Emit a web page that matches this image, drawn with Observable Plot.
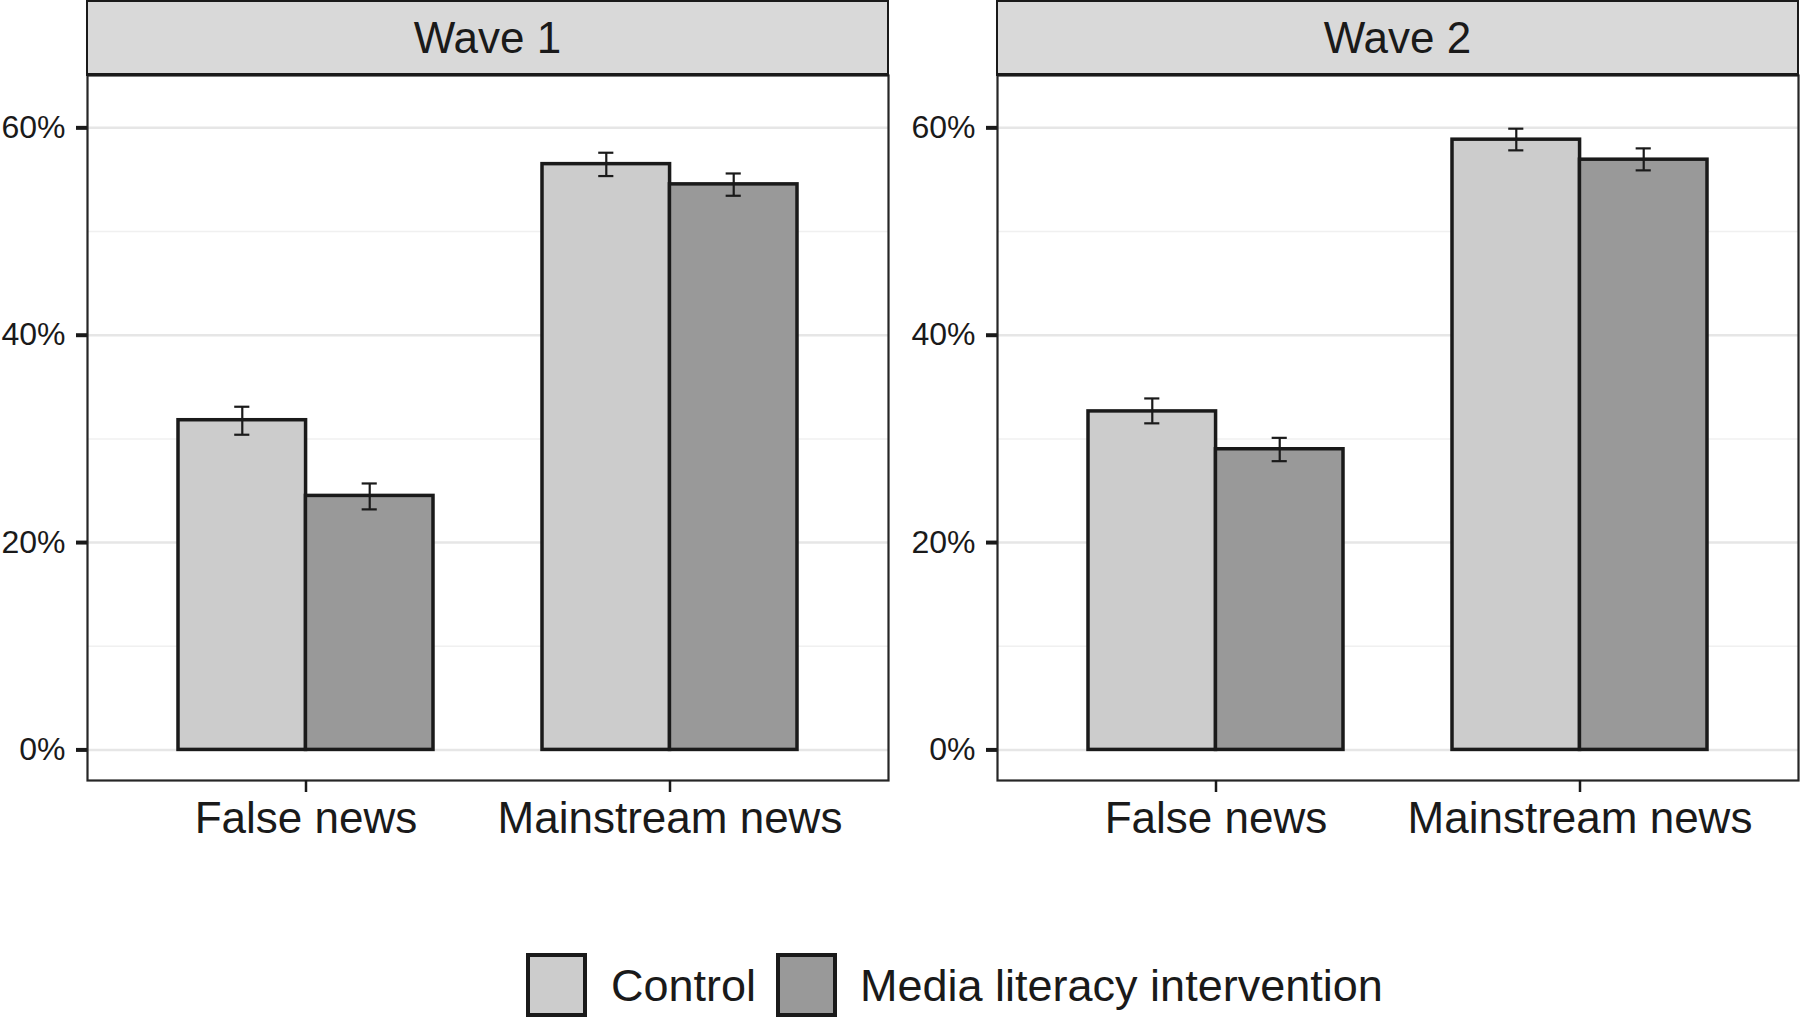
<!DOCTYPE html>
<html>
<head>
<meta charset="utf-8">
<script src="https://cdn.jsdelivr.net/npm/d3@7"></script>
<script src="https://cdn.jsdelivr.net/npm/@observablehq/plot@0.6"></script>
<style>
  html, body { margin: 0; padding: 0; background: #fff; overflow: hidden; }
  #root { position: relative; width: 1800px; height: 1017px; font-family: "Liberation Sans", Arial, Helvetica, sans-serif; color: #1a1a1a; }
  .panel { position: absolute; top: 0; }
  .strip { position: absolute; top: 0; height: 76px; box-sizing: border-box; background: #d9d9d9;
           border: 2px solid #1a1a1a; border-bottom-width: 3px; display: flex; align-items: center; justify-content: center;
           font-size: 44px; color: #1a1a1a; z-index: 2; }
  .key { position: absolute; top: 953px; width: 61px; height: 64px; box-sizing: border-box; border: 4px solid #1a1a1a; }
  .keylab { position: absolute; top: 985px; transform: translateY(-50%); font-size: 45px; line-height: 1; color: #1a1a1a; white-space: nowrap; }
</style>
</head>
<body>
<div id="root"></div>
<script>
// ---- data ----
const waves = ["Wave 1", "Wave 2"];
const categories = ["False news", "Mainstream news"];
const groups = ["Control", "Media literacy intervention"];

const wave1Control = [31.8, 56.5];
const wave1ControlLo = [30.4, 55.35];
const wave1ControlHi = [33.1, 57.6];
const wave1Intervention = [24.5, 54.55];
const wave1InterventionLo = [23.2, 53.45];
const wave1InterventionHi = [25.7, 55.6];

const wave2Control = [32.65, 58.86];
const wave2ControlLo = [31.5, 57.83];
const wave2ControlHi = [33.9, 59.92];
const wave2Intervention = [29.0, 56.93];
const wave2InterventionLo = [27.85, 55.9];
const wave2InterventionHi = [30.1, 58.02];

const yTicks = [0, 20, 40, 60];
const yMinorTicks = [10, 30, 50];

// ---- styles ----
const fills = ["#cccccc", "#999999"];
const FONT = '"Liberation Sans", Arial, Helvetica, sans-serif';
const SVG_W = 900, SVG_H = 860, M_TOP = 75, M_BOTTOM = 80;
const PAD_IN = 0.3, PAD_OUT = 0.25;

function rowsFor(ctrl, ctrlLo, ctrlHi, intv, intvLo, intvHi) {
  return categories.flatMap((c, i) => [
    {category: c, group: groups[0], value: ctrl[i], lo: ctrlLo[i], hi: ctrlHi[i]},
    {category: c, group: groups[1], value: intv[i], lo: intvLo[i], hi: intvHi[i]}
  ]);
}

function panel(rows, marginLeft, marginRight) {
  const plotW = SVG_W - marginLeft - marginRight;
  const step = plotW / (categories.length - PAD_IN + 2 * PAD_OUT);
  const bw = step * (1 - PAD_IN);
  const cap = 7.5;
  const ctrl = rows.filter(d => d.group === groups[0]);
  const intv = rows.filter(d => d.group === groups[1]);
  const ink = "#1a1a1a";
  return Plot.plot({
    width: SVG_W, height: SVG_H,
    marginTop: M_TOP, marginBottom: M_BOTTOM, marginLeft, marginRight,
    style: {fontFamily: FONT, fontSize: "32px", color: ink, background: "transparent", overflow: "visible"},
    x: {type: "band", domain: categories, paddingInner: PAD_IN, paddingOuter: PAD_OUT, label: null},
    y: {domain: [-2.95, 65.05], label: null},
    color: {domain: groups, range: fills},
    marks: [
      Plot.ruleY(yMinorTicks, {stroke: "#f0f0f0", strokeWidth: 1.5}),
      Plot.ruleY(yTicks, {stroke: "#e6e6e6", strokeWidth: 2.5}),
      Plot.barY(ctrl, {x: "category", y: "value", fill: "group", stroke: ink, strokeWidth: 3.5, insetRight: bw / 2}),
      Plot.barY(intv, {x: "category", y: "value", fill: "group", stroke: ink, strokeWidth: 3.5, insetLeft: bw / 2}),
      Plot.ruleX(ctrl, {x: "category", y1: "lo", y2: "hi", dx: -bw / 4, stroke: ink, strokeWidth: 2.2}),
      Plot.ruleX(intv, {x: "category", y1: "lo", y2: "hi", dx: bw / 4, stroke: ink, strokeWidth: 2.2}),
      Plot.tickY(ctrl, {x: "category", y: "lo", insetLeft: bw / 4 - cap, insetRight: 3 * bw / 4 - cap, stroke: ink, strokeWidth: 2.2}),
      Plot.tickY(ctrl, {x: "category", y: "hi", insetLeft: bw / 4 - cap, insetRight: 3 * bw / 4 - cap, stroke: ink, strokeWidth: 2.2}),
      Plot.tickY(intv, {x: "category", y: "lo", insetLeft: 3 * bw / 4 - cap, insetRight: bw / 4 - cap, stroke: ink, strokeWidth: 2.2}),
      Plot.tickY(intv, {x: "category", y: "hi", insetLeft: 3 * bw / 4 - cap, insetRight: bw / 4 - cap, stroke: ink, strokeWidth: 2.2}),
      Plot.frame({stroke: "#262626", strokeWidth: 2.2}),
      Plot.axisY(yTicks, {tickFormat: d => d + "%", tickSize: 11, tickPadding: 11, stroke: ink, strokeWidth: 4, label: null}),
      Plot.axisX({tickSize: 12, stroke: ink, strokeWidth: 2.5, tickFormat: () => "", label: null}),
      Plot.text(categories, {x: d => d, text: d => d, frameAnchor: "bottom", lineAnchor: "top", dy: 21.7, fontSize: 44, fill: ink})
    ]
  });
}

const root = document.getElementById("root");
const panelsSpec = [
  {left: 0, marginLeft: 87, marginRight: 12,
   rows: rowsFor(wave1Control, wave1ControlLo, wave1ControlHi, wave1Intervention, wave1InterventionLo, wave1InterventionHi)},
  {left: 900, marginLeft: 97, marginRight: 2,
   rows: rowsFor(wave2Control, wave2ControlLo, wave2ControlHi, wave2Intervention, wave2InterventionLo, wave2InterventionHi)}
];

panelsSpec.forEach((p, i) => {
  const wrap = document.createElement("div");
  wrap.className = "panel";
  wrap.style.left = p.left + "px";
  wrap.appendChild(panel(p.rows, p.marginLeft, p.marginRight));
  root.appendChild(wrap);

  const strip = document.createElement("div");
  strip.className = "strip";
  strip.style.left = (p.left + p.marginLeft - 1) + "px";
  strip.style.width = (SVG_W - p.marginLeft - p.marginRight + 2) + "px";
  strip.textContent = waves[i];
  root.appendChild(strip);
});

// legend
const keyLefts = [526, 776];
const labLefts = [611, 860];
groups.forEach((g, i) => {
  const k = document.createElement("div");
  k.className = "key";
  k.style.left = keyLefts[i] + "px";
  k.style.background = fills[i];
  root.appendChild(k);
  const t = document.createElement("div");
  t.className = "keylab";
  t.style.left = labLefts[i] + "px";
  t.textContent = g;
  root.appendChild(t);
});
</script>
</body>
</html>
